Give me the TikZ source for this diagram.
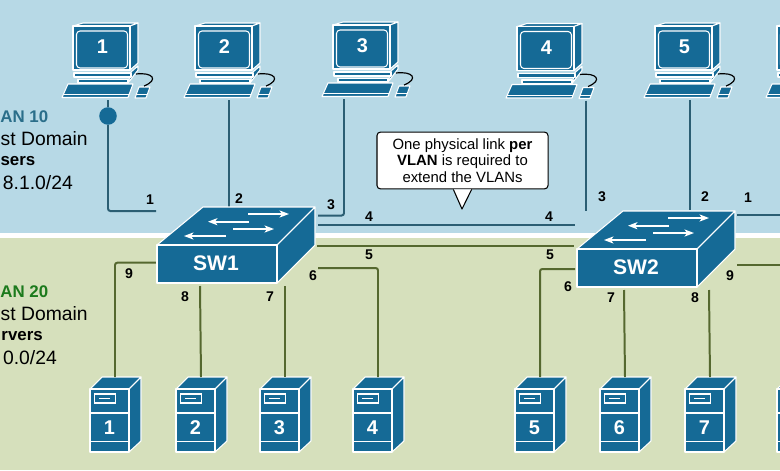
\documentclass[tikz,border=0pt]{standalone}
\usepackage{xcolor}
\usepackage{fontspec}
\setmainfont{Liberation Sans}
\usepackage{tikz}
\usetikzlibrary{arrows.meta}
\definecolor{devblue}{HTML}{156A96}
\definecolor{skyzone}{HTML}{B7D9E6}
\definecolor{sagezone}{HTML}{D6E0BC}
\definecolor{tealwire}{HTML}{2B5E73}
\definecolor{olivewire}{HTML}{55682F}
\definecolor{tenlabel}{HTML}{2A6E8A}
\definecolor{twentylabel}{HTML}{1C7A1C}
\tikzstyle{devbody} = [draw=white, line width=0.9pt, line join=round, fill=devblue]
\tikzstyle{flowarrow} = [white, line width=1.4pt, -{Stealth[length=8pt,width=6pt,inset=2pt]}]
\tikzstyle{portnum} = [inner sep=0pt, font=\fontsize{12}{14}\selectfont\bfseries]
\tikzstyle{devnum} = [inner sep=0pt, text=white, font=\fontsize{17}{19}\selectfont\bfseries]
\tikzstyle{sidetext} = [inner sep=0pt, anchor=east, font=\fontsize{16.5}{19}\selectfont]
\tikzstyle{sidebold} = [inner sep=0pt, anchor=east, font=\fontsize{14.4}{18}\selectfont\bfseries]
\tikzstyle{tenwire} = [draw=tealwire, line width=1.7pt, rounded corners=2pt]
\tikzstyle{twentywire} = [draw=olivewire, line width=1.7pt, rounded corners=2pt]
\tikzstyle{notebox} = [draw=black, line width=0.9pt, rectangle, rounded corners=3pt, fill=white, minimum width=146pt, minimum height=48.5pt, inner sep=0pt, align=center, font=\fontsize{12.7}{14.2}\selectfont]
\tikzset{
	pics/pc/.style 2 args={code={
		\draw [devbody] (0,0) -- (10,-3) -- (65,-3) -- (57,0) -- cycle;
		\draw [devbody] (57,0) -- (65,-3) -- (65,37) -- (57,44) -- cycle;
		\draw [devbody] (0,0) rectangle (57,44);
		\draw [devbody, rounded corners=3pt] (3.5,5) rectangle (54.5,42);
		\node [devnum] (-num) at (29.5,21) {#1};
		\draw [devbody] (58,46) -- (65,40) -- (65,44) -- (55,57) -- cycle;
		\draw [devbody] (1,47) rectangle (58,51);
		\draw [devbody] (5,53.5) rectangle (55,57);
		\draw [devbody] (-11,71.5) -- (-5,58) -- (60,58) -- (55,71.5) -- cycle;
		\draw [white, line width=0.7pt] (-10,68.5) -- (56,68.5);
		\draw [devbody] (62,72) -- (66,61) -- (77,61) -- (73,72) -- cycle;
		\draw [white, line width=0.7pt] (63,68.5) -- (74,68.5);
		\draw [black, line width=1pt] (63,48) .. controls (80,46) and (86,54) .. (71,60);
		\coordinate (-port) at (#2,74);
	}},
	pics/server/.style={code={
		\draw [devbody] (0,0) -- (12,-12) -- (51,-12) -- (39,0) -- cycle;
		\draw [devbody] (39,0) -- (51,-12) -- (51,52) -- (39,63) -- cycle;
		\draw [devbody] (0,0) rectangle (39,63);
		\draw [white, line width=0.9pt] (0,24) -- (39,24) (0,52.5) -- (39,52.5);
		\draw [white, line width=0.9pt] (4.3,5) rectangle (25.7,14);
		\draw [white, line width=0.9pt] (9,9.5) -- (20,9.5);
		\node [devnum] (-num) at (19.5,39) {#1};
		\coordinate (-port) at (25,-12);
	}},
	pics/switch/.style={code={
		\draw [devbody] (0,0) -- (46,-38) -- (158,-38) -- (120,0) -- cycle;
		\draw [devbody] (120,0) -- (158,-38) -- (158,0) -- (120,38) -- cycle;
		\draw [devbody] (0,0) rectangle (120,38);
		\draw [flowarrow] (91,-31) -- (132,-31);
		\draw [flowarrow] (92,-23.3) -- (51,-23.3);
		\draw [flowarrow] (76,-16) -- (117,-16);
		\draw [flowarrow] (69,-9) -- (27,-9);
		\node [devnum, font=\fontsize{18}{20}\selectfont\bfseries] (-name) at (59,18) {#1};
	}},
}

\begin{document}
\begin{tikzpicture}[x=0.03cm, y=-0.03cm]
	\useasboundingbox (0,0) rectangle (780,470);
	\clip (0,0) rectangle (780,470);
	\fill [white] (0,0) rectangle (780,470);
	\fill [skyzone] (0,0) rectangle (780,232.5);
	\fill [sagezone] (0,238) rectangle (780,470);

	% switch side ends
	\coordinate (sw1a) at (156,211);
	\coordinate (sw1b) at (229,207);
	\coordinate (sw1c) at (318,215.5);
	\coordinate (sw1d) at (318,225);
	\coordinate (sw1e) at (317,245.7);
	\coordinate (sw1f) at (318,268);
	\coordinate (sw1g) at (285,286);
	\coordinate (sw1h) at (200,286);
	\coordinate (sw1i) at (156,262.7);
	\coordinate (sw2c) at (586,211);
	\coordinate (sw2b) at (690,210);
	\coordinate (sw2a) at (737,215);
	\coordinate (sw2d) at (575,225);
	\coordinate (sw2e) at (574,245.7);
	\coordinate (sw2f) at (575,269);
	\coordinate (sw2g) at (624,290);
	\coordinate (sw2h) at (709,290);
	\coordinate (sw2i) at (737,265);
	\coordinate (edgea) at (780,215);
	\coordinate (edgei) at (780,265);

	\pic (pc1) at (73,26) {pc={1}{35}};
	\pic (pc2) at (195,26) {pc={2}{34}};
	\pic (pc3) at (333,25) {pc={3}{11}};
	\pic (pc4) at (517,26.5) {pc={4}{69}};
	\pic (pc5) at (655,26) {pc={5}{35}};
	\pic (pc6) at (777,26) {pc={}{35}};

	\pic (srv1) at (90,389) {server=1};
	\pic (srv2) at (176,389) {server=2};
	\pic (srv3) at (260,389) {server=3};
	\pic (srv4) at (353,389) {server=4};
	\pic (srv5) at (515,389) {server=5};
	\pic (srv6) at (600,389) {server=6};
	\pic (srv7) at (685,389) {server=7};
	\pic (srv8) at (777,389) {server={}};

	% links
	\node [circle, fill=devblue, inner sep=0pt, minimum size=15pt] (tap) at (108,116) {};
	\draw [tenwire] (pc1-port) -- (tap);
	\draw [tenwire] (tap) |- (sw1a);
	\draw [tenwire] (pc2-port) -- (sw1b);
	\draw [tenwire] (pc3-port) |- (sw1c);
	\draw [tenwire] (sw1d) -- (sw2d);
	\draw [tenwire] (pc4-port) -- (sw2c);
	\draw [tenwire] (pc5-port) -- (sw2b);
	\draw [tenwire] (sw2a) -- (edgea);
	\draw [twentywire] (sw1e) -- (sw2e);
	\draw [twentywire] (sw1f) -| (srv4-port);
	\draw [twentywire] (sw1g) -- (srv3-port);
	\draw [twentywire] (sw1h) -- (srv2-port);
	\draw [twentywire] (sw1i) -| (srv1-port);
	\draw [twentywire] (sw2f) -| (srv5-port);
	\draw [twentywire] (sw2g) -- (srv6-port);
	\draw [twentywire] (sw2h) -- (srv7-port);
	\draw [twentywire] (sw2i) -- (edgei);

	\pic (sw1) at (157,245) {switch=SW1};
	\pic (sw2) at (577,249) {switch=SW2};

	% port numbers
	\node [portnum] (n1a) at (150,200) {1};
	\node [portnum] (n1b) at (239,199) {2};
	\node [portnum] (n1c) at (331,205) {3};
	\node [portnum] (n1d) at (369,217) {4};
	\node [portnum] (n1e) at (369,255) {5};
	\node [portnum] (n1f) at (313,276) {6};
	\node [portnum] (n1g) at (270,297) {7};
	\node [portnum] (n1h) at (185,297) {8};
	\node [portnum] (n1i) at (129,274) {9};
	\node [portnum] (n2a) at (748,198) {1};
	\node [portnum] (n2b) at (705,197) {2};
	\node [portnum] (n2c) at (602,197) {3};
	\node [portnum] (n2d) at (549,217) {4};
	\node [portnum] (n2e) at (550,255) {5};
	\node [portnum] (n2f) at (568,287) {6};
	\node [portnum] (n2g) at (611,298) {7};
	\node [portnum] (n2h) at (695,298) {8};
	\node [portnum] (n2i) at (730,276) {9};

	% left side text
	\node [sidebold, text=tenlabel] (userstitle) at (48.5,117) {AN 10};
	\node [sidetext] (usersdomain) at (88,139) {st Domain};
	\node [sidebold] (usersname) at (35.5,161) {sers};
	\node [sidetext] (usersnet) at (73,183) {8.1.0/24};
	\node [sidebold, text=twentylabel] (srvtitle) at (48.5,292) {AN 20};
	\node [sidetext] (srvdomain) at (88,314) {st Domain};
	\node [sidebold] (srvname) at (43,336) {rvers};
	\node [sidetext] (srvnet) at (57,358) {0.0/24};

	% note
	\node [notebox] (note) at (462.5,160.5) {One physical link \textbf{per}\\\textbf{VLAN} is required to\\extend the VLANs};
	\coordinate (notetip) at (462,209);
	\fill [white] ([xshift=-7.8pt]note.south) -- (notetip) -- ([xshift=7.8pt]note.south) -- cycle;
	\draw [black, line width=0.9pt, line join=round] ([xshift=-7.8pt]note.south) -- (notetip) -- ([xshift=7.8pt]note.south);
\end{tikzpicture}
\end{document}
